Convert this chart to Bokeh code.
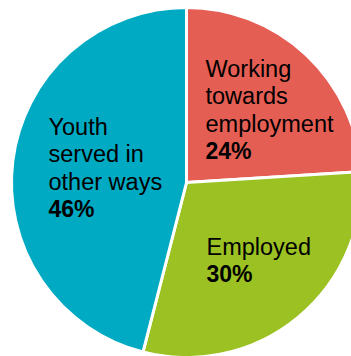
import math
from bokeh.plotting import figure
from bokeh.models import ColumnDataSource, Range1d
from bokeh.core.properties import value
from bokeh.embed import file_html
from bokeh.resources import INLINE

# ---- data ----
categories = ["Working towards employment", "Employed", "Youth served in other ways"]
label_lines = [["Working", "towards", "employment"], ["Employed"], ["Youth", "served in", "other ways"]]
percents = [24, 30, 46]
colors = ["#E55E54", "#9CC122", "#00AAC3"]

# ---- layout ----
W, H = 351, 356
cx, cy = 186, H - 182
R = 175
label_anchor = [(205, 68), (206, 246), (48, 126)]  # left x, first baseline (px from top)
line_h = 27.5

p = figure(width=W, height=H, x_range=Range1d(0, W), y_range=Range1d(0, H),
           output_backend="svg", toolbar_location=None, min_border=0)
p.axis.visible = False
p.grid.visible = False
p.outline_line_color = None
p.background_fill_color = "white"

total = sum(percents)
starts, ends = [], []
cum = 0
for v in percents:
    a0 = math.pi / 2 - 2 * math.pi * cum / total
    cum += v
    a1 = math.pi / 2 - 2 * math.pi * cum / total
    starts.append(a1)
    ends.append(a0)

src = ColumnDataSource(dict(start=starts, end=ends, color=colors, cat=categories))
p.wedge(x=cx, y=cy, radius=R, start_angle="start", end_angle="end",
        fill_color="color", line_color="white", line_width=3, source=src)

tx, ty, tt = [], [], []
bx, by, bt = [], [], []
for lines, pc, (ax, ay) in zip(label_lines, percents, label_anchor):
    for i, ln in enumerate(lines):
        tx.append(ax)
        ty.append(H - (ay + i * line_h))
        tt.append(ln)
    bx.append(ax)
    by.append(H - (ay + len(lines) * line_h))
    bt.append(f"{pc}%")

p.text(x=tx, y=ty, text=tt, text_font=value("Liberation Sans"), text_font_size="23.5px",
       text_color="#000000", text_align="left", text_baseline="alphabetic")
p.text(x=bx, y=by, text=bt, text_font=value("Liberation Sans"), text_font_size="23px",
       text_font_style="bold", text_color="#000000", text_align="left", text_baseline="alphabetic")

open("out.html", "w").write(file_html(p, INLINE))
